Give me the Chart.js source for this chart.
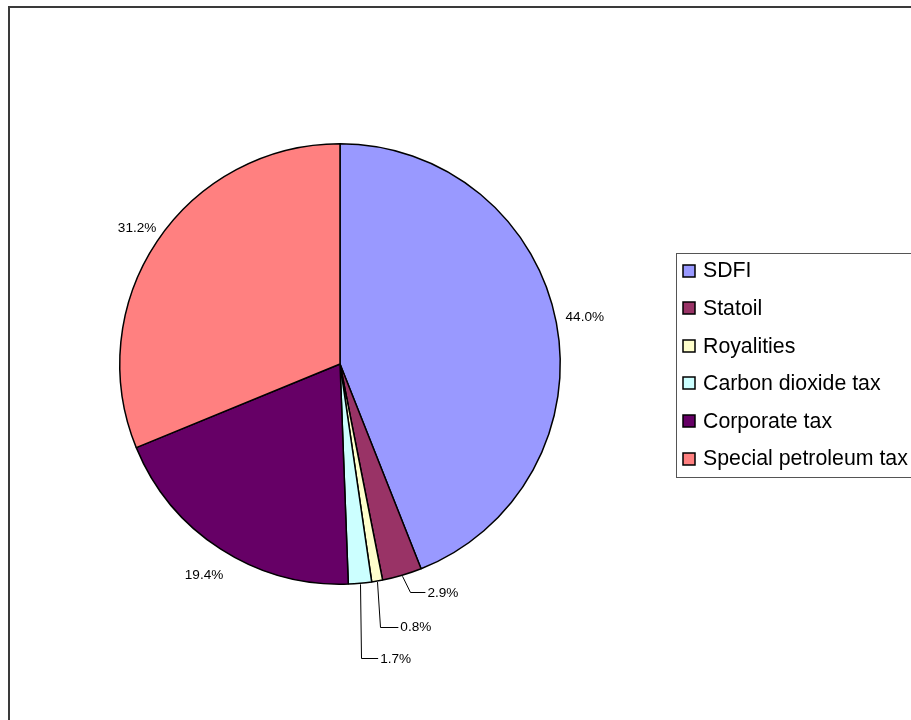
<!DOCTYPE html>
<html>
<head>
<meta charset="utf-8">
<script src="https://cdn.jsdelivr.net/npm/chart.js@4.4.0/dist/chart.umd.min.js"></script>
<style>
  html, body { margin: 0; padding: 0; background: #fff; }
  #wrap { position: relative; width: 911px; height: 720px; overflow: hidden; }
  canvas { display: block; }
</style>
</head>
<body>
<div id="wrap"><canvas id="c" width="911" height="720"></canvas></div>
<script>
// ---- data ----
const categories = ['SDFI', 'Statoil', 'Royalities', 'Carbon dioxide tax', 'Corporate tax', 'Special petroleum tax'];
const shares = [44.0, 2.9, 0.8, 1.7, 19.4, 31.2];
const percentLabels = ['44.0%', '2.9%', '0.8%', '1.7%', '19.4%', '31.2%'];

// ---- styling ----
const sliceColors = ['#9999FF', '#993366', '#FFFFCC', '#CCFFFF', '#660066', '#FF8080'];
const FONT = '"Liberation Sans", Arial, sans-serif';
// radial distance of label centre beyond the pie edge (outside labels)
const outsideLabelGap = { 0: 29, 4: 31, 5: 24 };
// labels that were dragged away from their slice, with elbow leader lines
const leaderPlacement = {
  1: { dx: 25, dy: 16, elbowDx: 8 },
  2: { dx: 23, dy: 45, elbowDx: 3 },
  3: { dx: 20, dy: 74, elbowDx: 1 }
};

const framePlugin = {
  id: 'frame',
  beforeDraw(chart) {
    const ctx = chart.ctx;
    ctx.save();
    ctx.fillStyle = '#fff';
    ctx.fillRect(0, 0, chart.width, chart.height);
    ctx.strokeStyle = '#3a3a3a';
    ctx.lineWidth = 2;
    ctx.strokeRect(9, 7, 1000, 1000);
    ctx.restore();
  }
};

const labelPlugin = {
  id: 'pctLabels',
  afterDatasetsDraw(chart) {
    const ctx = chart.ctx;
    const meta = chart.getDatasetMeta(0);
    ctx.save();
    ctx.font = '13.6px ' + FONT;
    ctx.fillStyle = '#000';
    ctx.textBaseline = 'middle';
    meta.data.forEach((arc, i) => {
      const mid = (arc.startAngle + arc.endAngle) / 2;
      const cx = arc.x, cy = arc.y, R = arc.outerRadius;
      const cos = Math.cos(mid), sin = Math.sin(mid);
      const text = percentLabels[i];
      const lp = leaderPlacement[i];
      if (lp) {
        const px = cx + (R + 1) * cos, py = cy + (R + 1) * sin;
        const tx = px + lp.dx, ty = py + lp.dy;
        ctx.strokeStyle = '#000';
        ctx.lineWidth = 1;
        ctx.beginPath();
        ctx.moveTo(Math.round(px) + 0.5, py);
        ctx.lineTo(Math.round(px + lp.elbowDx) + 0.5, Math.round(ty) + 0.5);
        ctx.lineTo(tx - 2, Math.round(ty) + 0.5);
        ctx.stroke();
        ctx.textAlign = 'left';
        ctx.fillText(text, tx, ty + 0.5);
      } else {
        const r = R + (outsideLabelGap[i] || 28);
        ctx.textAlign = 'center';
        ctx.fillText(text, cx + r * cos, cy + r * sin);
      }
    });
    ctx.restore();
  }
};

const legendPlugin = {
  id: 'boxLegend',
  afterDraw(chart) {
    const ctx = chart.ctx;
    ctx.save();
    const left = 676.5, top = 253.5, bottom = 477.5;
    ctx.strokeStyle = '#555';
    ctx.lineWidth = 1;
    ctx.strokeRect(left, top, 400, bottom - top);
    ctx.font = '21.3px ' + FONT;
    ctx.textBaseline = 'middle';
    ctx.textAlign = 'left';
    const rowStart = 270.5, rowGap = 37.6;
    categories.forEach((name, i) => {
      const y = rowStart + i * rowGap;
      ctx.fillStyle = sliceColors[i];
      ctx.fillRect(683, Math.round(y - 6), 12, 12);
      ctx.strokeStyle = '#000';
      ctx.lineWidth = 1.5;
      ctx.strokeRect(683, Math.round(y - 6), 12, 12);
      ctx.fillStyle = '#000';
      ctx.fillText(name, 703, y + 1);
    });
    ctx.restore();
  }
};

new Chart(document.getElementById('c'), {
  type: 'pie',
  data: {
    labels: categories,
    datasets: [{
      data: shares,
      backgroundColor: sliceColors,
      borderColor: '#000',
      borderWidth: 1.5
    }]
  },
  options: {
    responsive: false,
    animation: false,
    layout: { padding: { left: 119, right: 350, top: 143, bottom: 135 } },
    plugins: {
      legend: { display: false },
      tooltip: { enabled: false }
    }
  },
  plugins: [framePlugin, labelPlugin, legendPlugin]
});
</script>
</body>
</html>
